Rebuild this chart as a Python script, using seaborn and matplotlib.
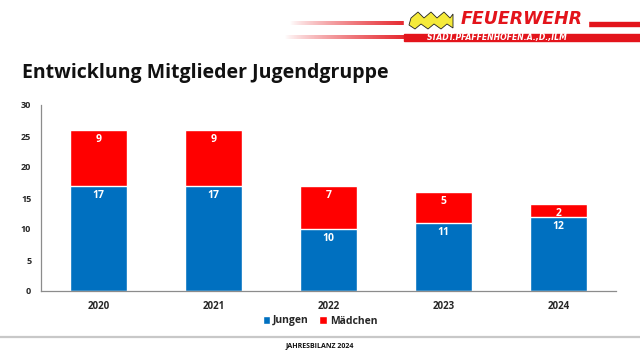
"""
plot.py — Entwicklung Mitglieder Jugendgruppe (stacked bars, Jahresbilanz style).
Output: out.png (640x360)
"""

import matplotlib
matplotlib.use("Agg")
import matplotlib.pyplot as plt
from matplotlib.patches import Patch, Polygon
import numpy as np
import pandas as pd
import seaborn as sns

YEARS = ["2020", "2021", "2022", "2023", "2024"]
JUNGEN = [17, 17, 10, 11, 12]
MAEDCHEN = [9, 9, 7, 5, 2]
Y_TICKS = [0, 5, 10, 15, 20, 25, 30]

TITLE = "Entwicklung Mitglieder Jugendgruppe"
FOOTER = "JAHRESBILANZ 2024"
BLUE = "#0070C0"
RED = "#FF0000"
FONT = ["Open Sans", "DejaVu Sans"]


def main():
    sns.set_style("white")
    plt.rcParams["font.family"] = FONT

    df = pd.DataFrame({"Jahr": YEARS, "Jungen": JUNGEN, "Mädchen": MAEDCHEN})
    df["Gesamt"] = df["Jungen"] + df["Mädchen"]

    fig = plt.figure(figsize=(6.4, 3.6), dpi=100)
    ax = fig.add_axes([41 / 640, 69 / 360, 575 / 640, 186 / 360])

    # stacked: total in red underneath, Jungen in blue on top of it
    sns.barplot(data=df, x="Jahr", y="Gesamt", color=RED, width=0.5,
                saturation=1, ax=ax)
    sns.barplot(data=df, x="Jahr", y="Jungen", color=BLUE, width=0.5,
                saturation=1, ax=ax)

    # segment labels just below each segment top
    for i, row in df.iterrows():
        for top, val in ((row["Jungen"], row["Jungen"]), (row["Gesamt"], row["Mädchen"])):
            ax.annotate(str(int(val)), xy=(i, top), xytext=(0, -6.8),
                        textcoords="offset points", ha="center", va="center",
                        color="white", fontsize=7.5, fontweight="bold")

    ax.set_xlim(-0.5, len(YEARS) - 0.5)
    ax.set_ylim(0, 30)
    ax.set_yticks(Y_TICKS)
    ax.set_xlabel("")
    ax.set_ylabel("")

    ax.tick_params(axis="y", which="major", direction="out", length=3,
                   width=0.8, color="#8c8c8c", labelsize=6.5, pad=4)
    ax.tick_params(axis="x", which="major", length=0, labelsize=7, pad=7)
    ax.set_xticks(np.arange(-0.5, len(YEARS)), minor=True)
    ax.tick_params(axis="x", which="minor", direction="out", length=4,
                   width=0.8, color="#8c8c8c")
    for lab in ax.get_xticklabels() + ax.get_yticklabels():
        lab.set_fontweight("bold")

    for side in ("top", "right"):
        ax.spines[side].set_visible(False)
    for side in ("left", "bottom"):
        ax.spines[side].set_color("#8c8c8c")
        ax.spines[side].set_linewidth(0.9)

    handles = [Patch(facecolor=BLUE, label="Jungen"),
               Patch(facecolor=RED, label="Mädchen")]
    leg = fig.legend(handles=handles, loc="center", bbox_to_anchor=(0.5, 1 - 321 / 360),
                     ncol=2, frameon=False, fontsize=7.5, handlelength=0.7,
                     handleheight=0.7, handletextpad=0.3, columnspacing=1.0)
    for t in leg.get_texts():
        t.set_fontweight("bold")

    # ── header / footer decoration ─────────────────────────────────────────
    deco = fig.add_axes([0, 0, 1, 1], zorder=-1)
    deco.set_xlim(0, 640)
    deco.set_ylim(360, 0)
    deco.axis("off")

    grad = np.linspace(0, 1, 256).reshape(1, -1) ** 0.8
    cmap = matplotlib.colors.LinearSegmentedColormap.from_list("fade", ["white", "#e3141b"])
    deco.imshow(grad, cmap=cmap, extent=(290, 420, 25.5, 21.5), aspect="auto")
    deco.imshow(grad, cmap=cmap, extent=(285, 420, 39, 35.5), aspect="auto")
    deco.add_patch(plt.Rectangle((588, 21.5), 52, 4, color="#e3141b"))
    deco.add_patch(plt.Rectangle((404, 19), 184, 10, color="white"))
    deco.add_patch(plt.Rectangle((404, 34), 236, 7, color="#e3141b"))

    wave_x = [411, 418, 424, 431, 437, 444, 450, 453, 453, 447, 441, 434, 428, 421, 415, 409]
    wave_y = [18, 12, 18, 12, 18, 12, 18, 14, 28, 24, 29, 24, 29, 24, 29, 25]
    deco.add_patch(Polygon(np.column_stack([wave_x, wave_y]), closed=True,
                           facecolor="#f5ea3b", edgecolor="#222222", lw=0.6))

    fig.text(522 / 640, 1 - 19.5 / 360, "FEUERWEHR", ha="center", va="center",
             color="#e3141b", fontsize=12.5, fontweight="bold", style="oblique",
             family="DejaVu Sans")
    fig.text(497 / 640, 1 - 37.5 / 360, "STADT.PFAFFENHOFEN.A.,D.,ILM", ha="center",
             va="center", color="white", fontsize=5.6, fontweight="bold", style="oblique",
             family="DejaVu Sans")

    fig.text(22 / 640, 1 - 73 / 360, TITLE, ha="left", va="center",
             fontsize=14, fontweight="bold", color="#111111")

    deco.plot([0, 640], [337, 337], color="#c8c8c8", lw=1.6)
    fig.text(0.5, 1 - 346 / 360, FOOTER, ha="center", va="center",
             fontsize=5, fontweight="bold", color="#111111")

    fig.savefig("out.png", dpi=100)
    plt.close(fig)


if __name__ == "__main__":
    main()
